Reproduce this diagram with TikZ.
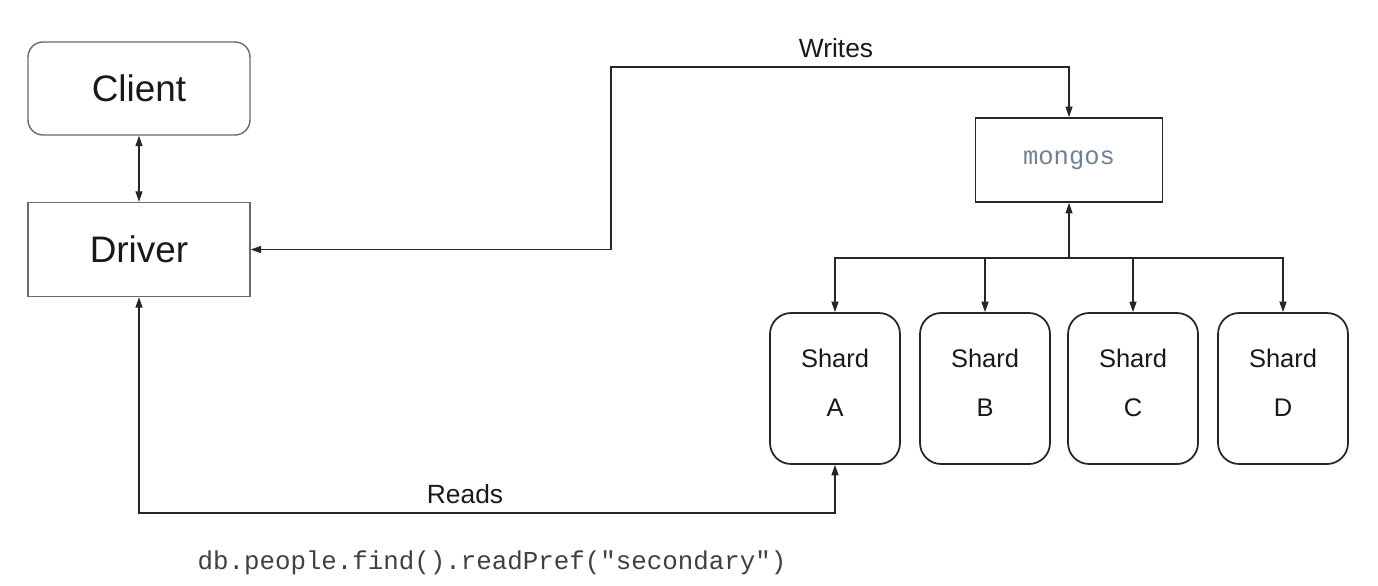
\documentclass[tikz,border=0pt]{standalone}
\usepackage{fontspec}
\setmainfont{Liberation Sans}
\setmonofont{Liberation Mono}
\usepackage{tikz}
\usetikzlibrary{arrows.meta}

\definecolor{boxgray}{HTML}{6A6A6A}
\definecolor{mongotext}{HTML}{6F8294}

\begin{document}
\begin{tikzpicture}[x=0.02cm, y=-0.02cm]
	\useasboundingbox (0,0) rectangle (1378,585);
	\begin{scope}[every node/.style = {draw, text=black!90},
		box/.style = {draw=boxgray, line width=0.8pt, minimum width=4.44cm,
			font=\fontsize{21}{25}\selectfont},
		shard/.style = {draw=black!85, line width=1pt, rounded corners=0.42cm,
			minimum width=2.6cm, minimum height=3.02cm, align=center,
			text depth=0.24cm, font=\fontsize{14.5}{28}\selectfont}]
		\node[box, rounded corners=0.3cm, minimum height=1.86cm] (client) at (139,88.5) {Client};
		\node[box, minimum height=1.88cm] (driver) at (139,249.5) {Driver};
		\node[draw=black!85, line width=1pt, minimum width=3.74cm, minimum height=1.68cm,
			text=mongotext, font=\ttfamily\fontsize{14.5}{17}\selectfont] (mongos) at (1069,160) {mongos};
		\node[shard] (sA) at (835,388.5) {Shard\\A};
		\node[shard] (sB) at (985,388.5) {Shard\\B};
		\node[shard] (sC) at (1133,388.5) {Shard\\C};
		\node[shard] (sD) at (1283,388.5) {Shard\\D};
	\end{scope}
	\coordinate (wtop) at (611,67);
	\coordinate (rbot) at (139,513);
	\coordinate (bus) at (1069,258);
	\begin{scope}[>={Triangle[length=6pt,width=4pt]},
			every edge/.style={draw=black!85, line width=0.8pt},
			line width=0.8pt, draw=black!85]
		\path [<->] (client) edge (driver);
		\draw [<->] (driver.east) -| (wtop) -| (mongos.north);
		\draw [<->] (driver.south) -- (rbot) -| (sA.south);
		\draw [<-] (mongos.south) -- (bus);
		\foreach \s in {sA,sB,sC,sD}
			\draw [->] (bus) -| (\s.north);
	\end{scope}
	\node[font=\fontsize{15}{18}\selectfont, text=black!90] (writes) at (836,48) {Writes};
	\node[font=\fontsize{15}{18}\selectfont, text=black!90] (reads) at (465,494) {Reads};
	\node[font=\ttfamily\fontsize{14.7}{17}\selectfont, text=black!75] (query) at (492,563)
		{db.people.find().readPref("secondary")};

\end{tikzpicture}
\end{document}
